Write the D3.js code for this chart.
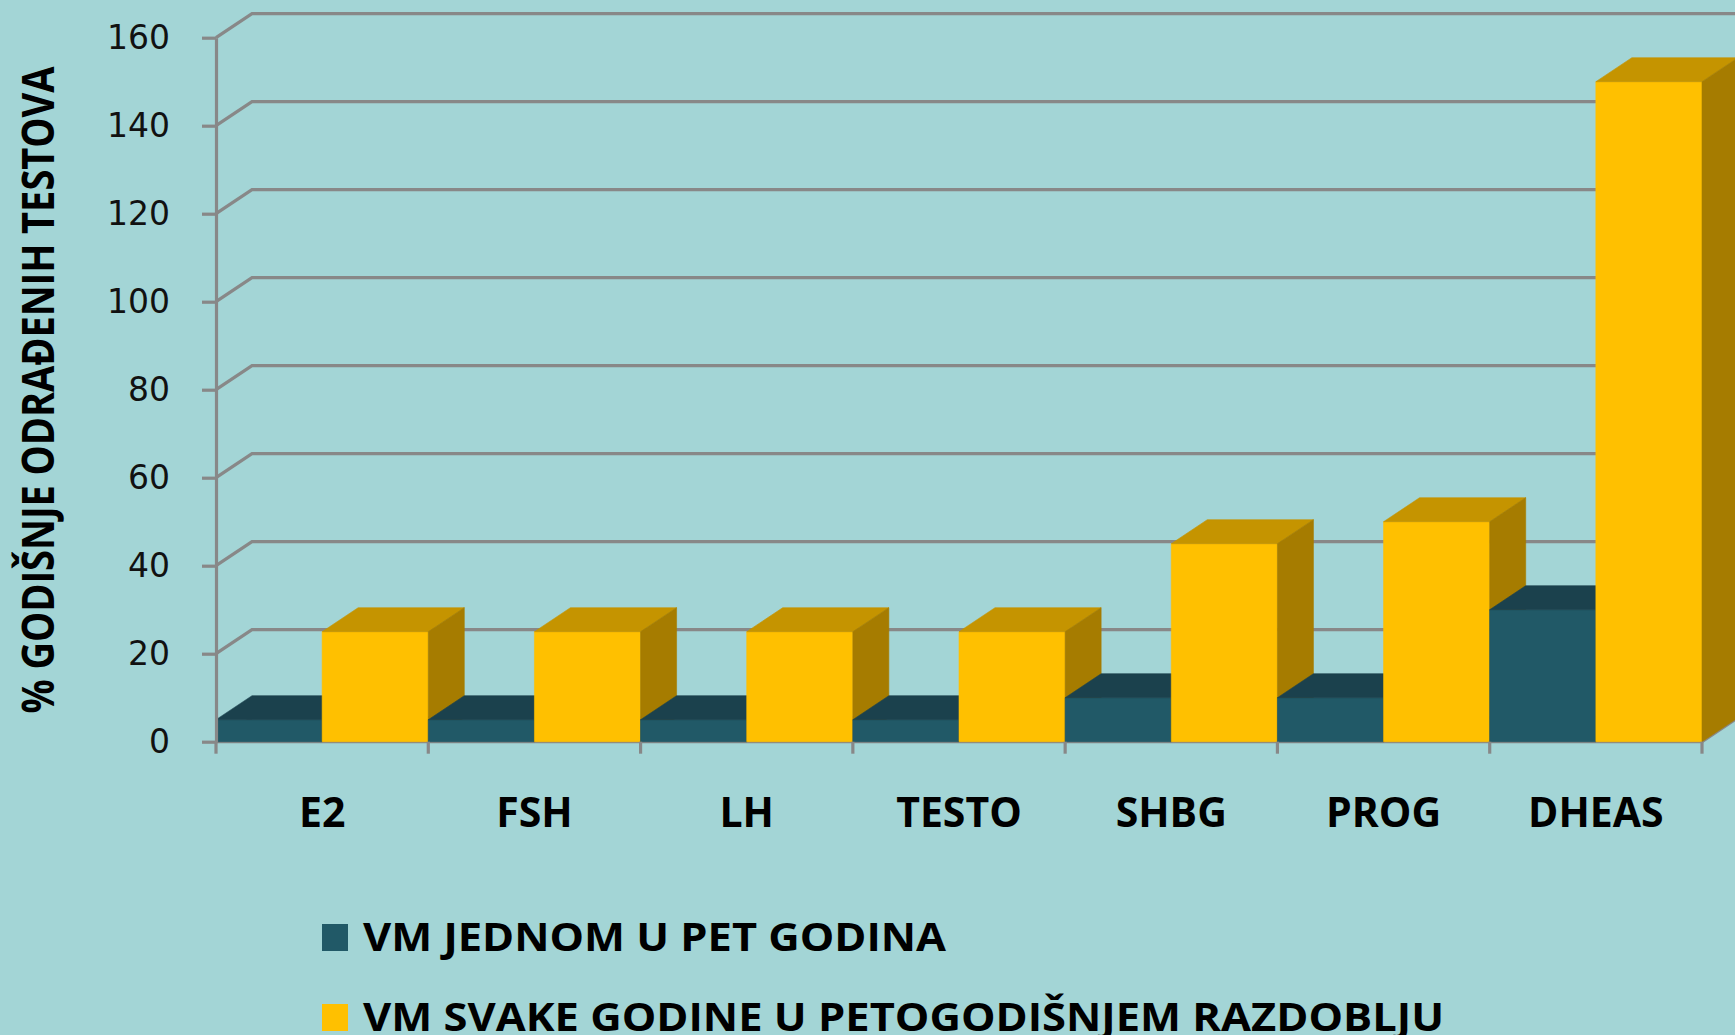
<!DOCTYPE html>
<html>
<head>
<meta charset="utf-8">
<script src="https://cdn.jsdelivr.net/npm/d3@7"></script>
<style>
  html, body { margin: 0; padding: 0; background: #a3d5d6; }
  svg { display: block; }
</style>
</head>
<body>
<div id="d3-container"></div>
<script>
/* DATA */
const categories = ["E2", "FSH", "LH", "TESTO", "SHBG", "PROG", "DHEAS"];
const seriesNames = ["VM JEDNOM U PET GODINA", "VM SVAKE GODINE U PETOGODIŠNJEM RAZDOBLJU"];
const onceInFive = [5, 5, 5, 5, 10, 10, 30];
const everyYear = [25, 25, 25, 25, 45, 50, 150];
const yTicks = [0, 20, 40, 60, 80, 100, 120, 140, 160];
const yTitle = "% GODIŠNJE ODRAĐENIH TESTOVA";

/* CONSTANTS */
const width = 1735,
  height = 1035,
  margin = { top: 37.7, bottom: 293.3, left: 216, right: 33 };
const depth = { dx: 36, dy: -24 };
const gridColor = "#888888";

// front, top, side shades for each series
const shades = [
  { front: "#215967", top: "#1b414d", side: "#173a45" },
  { front: "#ffc000", top: "#c59400", side: "#a67c00" }
];

const svg = d3.select("#d3-container")
  .append("svg")
  .attr("width", width)
  .attr("height", height);

svg.append("rect")
  .attr("width", width)
  .attr("height", height)
  .attr("fill", "#a3d5d6");

// + SCALES
const xScale = d3.scaleBand()
  .domain(categories)
  .range([margin.left, width - margin.right])
  .padding(0);

const xSeries = d3.scaleBand()
  .domain([0, 1])
  .range([0, xScale.bandwidth()])
  .padding(0);

const yScale = d3.scaleLinear()
  .domain([0, 160])
  .range([height - margin.bottom, margin.top]);

const y0 = yScale(0);
const xLeft = margin.left, xRight = width - margin.right;

// back wall gridlines (with the diagonal on the side wall)
svg.append("g")
  .selectAll("path")
  .data(yTicks)
  .join("path")
  .attr("d", d => {
    const y = yScale(d);
    return `M${xLeft},${y}L${xLeft + depth.dx},${y + depth.dy}L${width + 10},${y + depth.dy}`;
  })
  .attr("fill", "none")
  .attr("stroke", gridColor)
  .attr("stroke-width", 3.2);

// floor line + right diagonal
svg.append("path")
  .attr("d", `M${xLeft},${y0}L${xRight},${y0}L${xRight + depth.dx},${y0 + depth.dy}`)
  .attr("fill", "none")
  .attr("stroke", gridColor)
  .attr("stroke-width", 3.2);

// bars, drawn left to right so the 3D faces overlap correctly
const bars = [];
categories.forEach((c, i) => {
  [onceInFive[i], everyYear[i]].forEach((v, s) => {
    bars.push({ cat: c, s: s, value: v });
  });
});

const barG = svg.append("g")
  .selectAll("g")
  .data(bars)
  .join("g");

function facePaths(d) {
  const x = xScale(d.cat) + xSeries(d.s);
  const w = xSeries.bandwidth();
  const yt = yScale(d.value);
  const dx = depth.dx, dy = depth.dy;
  return {
    front: `M${x},${yt}H${x + w}V${y0}H${x}Z`,
    top: `M${x},${yt}L${x + dx},${yt + dy}H${x + w + dx}L${x + w},${yt}Z`,
    side: `M${x + w},${yt}L${x + w + dx},${yt + dy}V${y0 + dy}L${x + w},${y0}Z`
  };
}

["front", "top", "side"].forEach(face => {
  barG.append("path")
    .attr("d", d => facePaths(d)[face])
    .attr("fill", d => shades[d.s][face])
    .attr("stroke", d => shades[d.s][face])
    .attr("stroke-width", 0.6);
});

// x axis ticks (category boundaries)
const xBounds = categories.map(c => xScale(c)).concat([xRight]);
svg.append("g")
  .selectAll("line")
  .data(xBounds)
  .join("line")
  .attr("x1", d => d).attr("x2", d => d)
  .attr("y1", y0).attr("y2", y0 + 12)
  .attr("stroke", gridColor)
  .attr("stroke-width", 3.2);

// y axis
const yAxis = d3.axisLeft(yScale)
  .tickValues(yTicks)
  .tickSize(14)
  .tickPadding(32)
  .tickSizeOuter(0);

const yAxisG = svg.append("g")
  .attr("transform", `translate(${xLeft}, 0)`)
  .call(yAxis);

yAxisG.select(".domain")
  .attr("stroke", gridColor)
  .attr("stroke-width", 3.2);
yAxisG.selectAll(".tick line")
  .attr("stroke", gridColor)
  .attr("stroke-width", 3.2);
yAxisG.selectAll(".tick text")
  .attr("font-family", "DejaVu Sans, Verdana, sans-serif")
  .attr("font-size", 33)
  .attr("fill", "#111");

// category labels
svg.append("g")
  .selectAll("text")
  .data(categories)
  .join("text")
  .attr("x", d => xScale(d) + xScale.bandwidth() / 2)
  .attr("y", 827)
  .attr("text-anchor", "middle")
  .attr("font-family", "Open Sans, sans-serif")
  .attr("font-weight", "bold")
  .attr("font-size", 41)
  .attr("fill", "#000")
  .text(d => d);

// y title
svg.append("text")
  .attr("transform", "translate(54, 390) rotate(-90)")
  .attr("text-anchor", "middle")
  .attr("font-family", "Open Sans, sans-serif")
  .attr("font-weight", "bold")
  .attr("font-size", 44)
  .attr("textLength", 647)
  .attr("lengthAdjust", "spacingAndGlyphs")
  .attr("fill", "#000")
  .text(yTitle);

// legend
const legendRows = [
  { name: seriesNames[0], color: shades[0].front, y: 951, len: 583 },
  { name: seriesNames[1], color: shades[1].front, y: 1031, len: 1081 }
];
const legend = svg.append("g")
  .selectAll("g")
  .data(legendRows)
  .join("g");

legend.append("rect")
  .attr("x", 322)
  .attr("y", d => d.y - 27)
  .attr("width", 26)
  .attr("height", 27)
  .attr("fill", d => d.color);

legend.append("text")
  .attr("x", 363)
  .attr("y", d => d.y)
  .attr("font-family", "Open Sans, sans-serif")
  .attr("font-weight", "bold")
  .attr("font-size", 39)
  .attr("textLength", d => d.len)
  .attr("lengthAdjust", "spacingAndGlyphs")
  .attr("fill", "#000")
  .text(d => d.name);
</script>
</body>
</html>
